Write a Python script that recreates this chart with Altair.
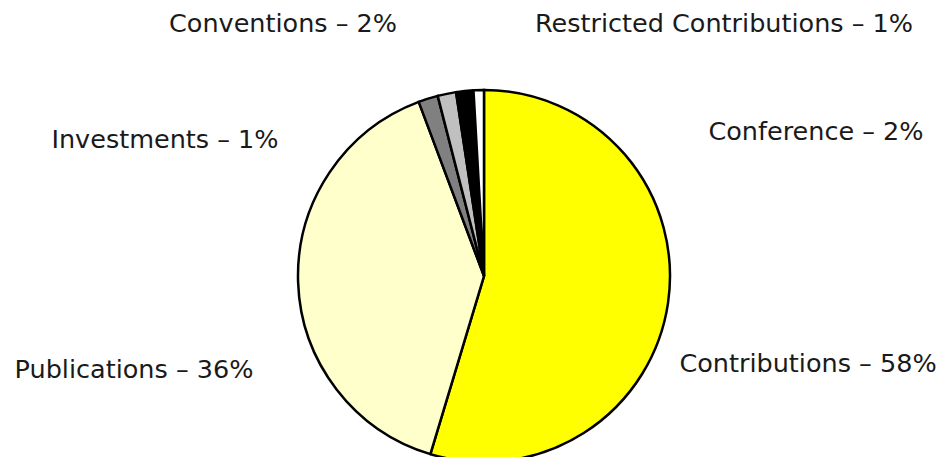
import altair as alt
import pandas as pd

categories = ["Contributions", "Publications", "Investments", "Conventions", "Conference", "Restricted Contributions"]
values = [54.6, 39.6, 1.7, 1.6, 1.5, 0.9]
labels = ["Contributions – 58%", "Publications – 36%", "Investments – 1%", "Conventions – 2%", "Conference – 2%", "Restricted Contributions – 1%"]
colors = ["#FFFF00", "#FFFFCC", "#808080", "#C0C0C0", "#000000", "#FFFFFF"]

df = pd.DataFrame({"category": categories, "value": values, "label": labels, "order": list(range(len(categories)))})

W, H = 934, 449

pie = alt.Chart(df).mark_arc(stroke="black", strokeWidth=2.5, radius=186).encode(
    theta=alt.Theta("value:Q", stack=True),
    order=alt.Order("order:Q"),
    color=alt.Color("category:N", scale=alt.Scale(domain=categories, range=colors), legend=None),
    x=alt.value(476),
    y=alt.value(268),
)

label_pos = {
    "Contributions": (800, 364),
    "Publications": (126, 370),
    "Investments": (157, 140),
    "Conventions": (275, 24),
    "Conference": (808, 132),
    "Restricted Contributions": (716, 24),
}

layers = [pie]
for cat in categories:
    px, py = label_pos[cat]
    layers.append(
        alt.Chart(df).transform_filter(alt.datum.category == cat).mark_text(
            font="DejaVu Sans", fontSize=25.5, color="#1a1a1a", align="center", baseline="alphabetic"
        ).encode(text="label:N", x=alt.value(px), y=alt.value(py))
    )

chart = alt.layer(*layers).properties(
    width=W, height=H, autosize=alt.AutoSizeParams(type="none"), padding=0
).configure_view(stroke=None)

chart.save("out.html", embed_options={"renderer": "svg", "actions": False})
